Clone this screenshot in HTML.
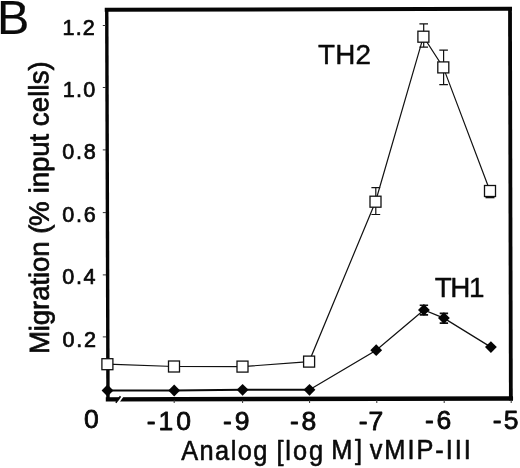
<!DOCTYPE html>
<html lang="en"><head><meta charset="utf-8"><title>Figure B</title>
<style>html,body{margin:0;padding:0;background:#fff}body{width:520px;height:468px;overflow:hidden}svg{display:block}text{font-family:"Liberation Sans",Arial,Helvetica,sans-serif;fill:#0a0a0a;stroke:#0a0a0a;stroke-width:0.45px;stroke-linejoin:round}</style></head><body>
<svg width="520" height="468" viewBox="0 0 520 468">
<rect width="520" height="468" fill="#fff"/>
<line x1="106.75" y1="9.8" x2="510" y2="8.85" stroke="#050505" stroke-width="4.0" stroke-linecap="square"/>
<line x1="510" y1="8.85" x2="510.85" y2="398.55" stroke="#050505" stroke-width="3.8" stroke-linecap="square"/>
<line x1="510.85" y1="398.55" x2="108" y2="399.35" stroke="#050505" stroke-width="4.4" stroke-linecap="square"/>
<line x1="108" y1="399.35" x2="106.75" y2="9.8" stroke="#050505" stroke-width="3.4" stroke-linecap="square"/>
<line x1="115.9" y1="402.7" x2="120.5" y2="396.2" stroke="#0a0a0a" stroke-width="1.7"/>
<line x1="117.9" y1="402.9" x2="122.9" y2="395.9" stroke="#fff" stroke-width="1.8"/>
<line x1="102.8" y1="25.5" x2="106" y2="25.5" stroke="#333" stroke-width="1"/>
<line x1="102.8" y1="87.5" x2="106" y2="87.5" stroke="#333" stroke-width="1"/>
<line x1="102.8" y1="149.9" x2="106" y2="149.9" stroke="#333" stroke-width="1"/>
<line x1="102.8" y1="212.6" x2="106" y2="212.6" stroke="#333" stroke-width="1"/>
<line x1="102.8" y1="274.9" x2="106" y2="274.9" stroke="#333" stroke-width="1"/>
<line x1="102.8" y1="336.9" x2="106" y2="336.9" stroke="#333" stroke-width="1"/>
<line x1="174.2" y1="400" x2="174.2" y2="403" stroke="#333" stroke-width="1"/>
<line x1="242.6" y1="400" x2="242.6" y2="403" stroke="#333" stroke-width="1"/>
<line x1="309.6" y1="400" x2="309.6" y2="403" stroke="#333" stroke-width="1"/>
<line x1="376.8" y1="400" x2="376.8" y2="403" stroke="#333" stroke-width="1"/>
<line x1="444.2" y1="400" x2="444.2" y2="403" stroke="#333" stroke-width="1"/>
<line x1="511.2" y1="400" x2="511.2" y2="403" stroke="#333" stroke-width="1"/>
<polyline points="107.4,364.2 174,366.5 242.5,366.6 309.1,361.6 375.5,201.7 423.4,36.7 443.3,67.4 490,191" fill="none" stroke="#111" stroke-width="1.2"/>
<path d="M375.8 187.7V214.5M371.40 187.7H380.20M371.40 214.5H380.20" stroke="#111" stroke-width="1.2" fill="none"/>
<path d="M423.7 23.8V47.2M419.40 23.8H428.00M419.40 47.2H428.00" stroke="#111" stroke-width="1.2" fill="none"/>
<path d="M443.6 50.1V84.7M439.30 50.1H447.90M439.30 84.7H447.90" stroke="#111" stroke-width="1.2" fill="none"/>
<rect x="101.90" y="358.70" width="11.0" height="11.0" fill="#fff" stroke="#111" stroke-width="1.3"/>
<rect x="168.50" y="361.00" width="11.0" height="11.0" fill="#fff" stroke="#111" stroke-width="1.3"/>
<rect x="237.00" y="361.10" width="11.0" height="11.0" fill="#fff" stroke="#111" stroke-width="1.3"/>
<rect x="303.60" y="356.10" width="11.0" height="11.0" fill="#fff" stroke="#111" stroke-width="1.3"/>
<rect x="370.00" y="196.20" width="11.0" height="11.0" fill="#fff" stroke="#111" stroke-width="1.3"/>
<rect x="417.90" y="31.20" width="11.0" height="11.0" fill="#fff" stroke="#111" stroke-width="1.3"/>
<rect x="437.80" y="61.90" width="11.0" height="11.0" fill="#fff" stroke="#111" stroke-width="1.3"/>
<rect x="484.50" y="185.50" width="11.0" height="11.0" fill="#fff" stroke="#111" stroke-width="1.3"/>
<line x1="485.5" y1="197.6" x2="494.5" y2="197.6" stroke="#111" stroke-width="1.4"/>
<polyline points="107.5,390.5 174.2,390.5 242.6,389.8 309.5,389.8" fill="none" stroke="#0a0a0a" stroke-width="1.9"/>
<polyline points="309.5,389.8 376.2,350.2 423.9,309.9 443.9,318.1 490.9,347.1" fill="none" stroke="#111" stroke-width="1.25"/>
<path d="M423.9 305.3V314.9" stroke="#111" stroke-width="2.6" fill="none"/>
<path d="M419.70 305.3H428.10M419.70 314.9H428.10" stroke="#111" stroke-width="1.6" fill="none"/>
<path d="M443.9 313.4V323.1" stroke="#111" stroke-width="2.6" fill="none"/>
<path d="M439.70 313.4H448.10M439.70 323.1H448.10" stroke="#111" stroke-width="1.6" fill="none"/>
<polygon points="101.60,390.5 107.5,384.60 113.40,390.5 107.5,396.40" fill="#050505"/>
<polygon points="168.30,390.5 174.2,384.60 180.10,390.5 174.2,396.40" fill="#050505"/>
<polygon points="236.70,389.8 242.6,383.90 248.50,389.8 242.6,395.70" fill="#050505"/>
<polygon points="303.60,389.8 309.5,383.90 315.40,389.8 309.5,395.70" fill="#050505"/>
<polygon points="370.30,350.2 376.2,344.30 382.10,350.2 376.2,356.10" fill="#050505"/>
<polygon points="418.00,309.9 423.9,304.00 429.80,309.9 423.9,315.80" fill="#050505"/>
<polygon points="438.00,318.1 443.9,312.20 449.80,318.1 443.9,324.00" fill="#050505"/>
<polygon points="485.00,347.1 490.9,341.20 496.80,347.1 490.9,353.00" fill="#050505"/>
<text transform="translate(-2.92 33.95) scale(1.0000 1)" font-size="48.42" style="stroke-width:0.15px">B</text>
<text transform="translate(62.61 34.67) scale(1.0000 1)" font-size="21.55" letter-spacing="1.046" style="stroke-width:0.7px">1.2</text>
<text transform="translate(62.71 96.88) scale(1.0000 1)" font-size="21.55" letter-spacing="1.238" style="stroke-width:0.7px">1.0</text>
<text transform="translate(62.36 159.38) scale(1.0000 1)" font-size="21.55" letter-spacing="1.765" style="stroke-width:0.7px">0.8</text>
<text transform="translate(62.36 222.47) scale(1.0000 1)" font-size="21.55" letter-spacing="1.765" style="stroke-width:0.7px">0.6</text>
<text transform="translate(62.26 284.48) scale(1.0000 1)" font-size="21.55" letter-spacing="1.653" style="stroke-width:0.7px">0.4</text>
<text transform="translate(62.56 346.88) scale(1.0000 1)" font-size="21.55" letter-spacing="1.769" style="stroke-width:0.7px">0.2</text>
<text transform="translate(83.91 428.12) scale(1.0000 1)" font-size="26.51" style="stroke-width:0.8px">0</text>
<text transform="translate(146.78 430.32) scale(1.0000 1)" font-size="26.51" letter-spacing="2.900" style="stroke-width:0.8px">-10</text>
<text transform="translate(223.08 430.32) scale(1.0000 1)" font-size="26.51" letter-spacing="2.777" style="stroke-width:0.8px">-9</text>
<text transform="translate(289.98 430.22) scale(1.0000 1)" font-size="26.51" letter-spacing="2.744" style="stroke-width:0.8px">-8</text>
<text transform="translate(358.78 429.72) scale(1.0000 1)" font-size="26.51" letter-spacing="0.777" style="stroke-width:0.8px">-7</text>
<text transform="translate(424.98 429.43) scale(1.0000 1)" font-size="26.51" letter-spacing="2.644" style="stroke-width:0.8px">-6</text>
<text transform="translate(492.73 429.12) scale(1.0000 1)" font-size="26.51" letter-spacing="2.194" style="stroke-width:0.8px">-5</text>
<text transform="translate(318.00 64.20) scale(1.0000 1)" font-size="27.80" letter-spacing="0.222">TH2</text>
<text transform="translate(434.70 296.70) scale(1.0000 1)" font-size="27.80" letter-spacing="-1.378">TH1</text>
<text transform="translate(181.25 459.62) scale(0.9200 1)" font-size="27.59" letter-spacing="1.535" style="stroke-width:0.6px">Analog</text>
<text transform="translate(276.40 459.53) scale(0.9200 1)" font-size="27.59" letter-spacing="2.060" style="stroke-width:0.6px">[log</text>
<text transform="translate(331.14 459.43) scale(0.9200 1)" font-size="27.59" letter-spacing="3.026" style="stroke-width:0.6px">M]</text>
<text transform="translate(369.65 459.23) scale(0.9200 1)" font-size="27.59" letter-spacing="2.135" style="stroke-width:0.6px">vMIP-III</text>
<text transform="translate(48.98 354.09) rotate(-90.14) scale(1.0000 1)" font-size="27.75" letter-spacing="-0.184" style="stroke-width:0.7px">Migration</text>
<text transform="translate(48.67 233.84) rotate(-90.14) scale(1.0000 1)" font-size="27.75" letter-spacing="-1.366" style="stroke-width:0.7px">(%</text>
<text transform="translate(48.58 193.28) rotate(-90.14) scale(1.0000 1)" font-size="27.75" letter-spacing="-0.195" style="stroke-width:0.7px">input</text>
<text transform="translate(48.38 126.32) rotate(-90.14) scale(1.0000 1)" font-size="27.75" letter-spacing="0.082" style="stroke-width:0.7px">cells)</text>
</svg></body></html>
